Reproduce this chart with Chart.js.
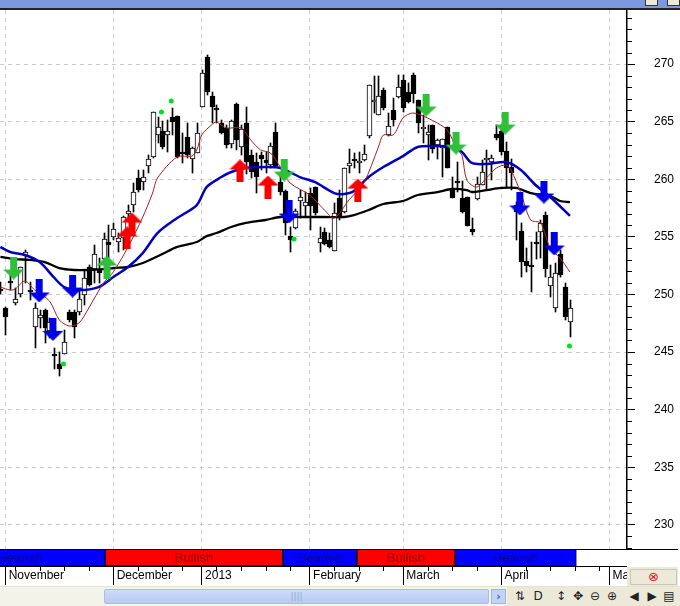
<!DOCTYPE html>
<html>
<head>
<meta charset="utf-8">
<script src="https://cdn.jsdelivr.net/npm/chart.js@4"></script>
<style>
html, body { margin: 0; padding: 0; background: #fff; overflow: hidden; }
#page { position: relative; width: 680px; height: 606px; overflow: hidden; font-family: "Liberation Sans", sans-serif; }
#page > * { position: absolute; }
#titlebar { left: 0; top: 0; width: 680px; height: 8px; background: #7b98e0; border-bottom: 2px solid #222; box-sizing: content-box; }
.winbtn { top: 0; height: 5px; background: #ece9d8; border: 1px solid #333; border-top: none; }
#priceChart { left: 0; top: 10px; }
#bandChart { left: 0; top: 549px; }
#bandTop { left: 0; top: 549px; width: 678px; height: 1px; background: #000; }
#corner { left: 627px; top: 567px; width: 51px; height: 20px; background: #ece9d8; }
#cornerBox { left: 630px; top: 569px; width: 45px; height: 14px; background: #ece9d8; border: 1px solid #c9c7b6; color: #d02020; font: 13px/14px "DejaVu Sans"; text-align: center; }
#toolbar { left: 0; top: 586px; width: 680px; height: 20px; background: #f4f3ea; border-top: 1px solid #e4e2d0; box-sizing: border-box; }
#thumb { left: 104px; top: 589px; width: 385px; height: 15px; background: linear-gradient(#cfdcf8, #b7caf2); border: 1px solid #a9bde8; border-radius: 2px; box-sizing: border-box; color: #8fa6d8; font: 9px/13px "DejaVu Sans"; text-align: center; }
#thumbNext { left: 491px; top: 589px; width: 15px; height: 15px; background: #c3d3f5; border: 1px solid #9fb5e4; box-sizing: border-box; color: #3a5fb0; font: bold 11px/13px "DejaVu Sans"; text-align: center; }
#tools { left: 507px; top: 587px; width: 173px; height: 19px; background: #ece9d8; }
.tool { top: 588px; width: 16px; text-align: center; font: 12px/17px "DejaVu Sans"; color: #222; }
</style>
</head>
<body>
<div id="page">
  <div id="titlebar"></div>
  <div class="winbtn" style="left:645px;width:11px"></div>
  <div class="winbtn" style="left:667px;width:11px"></div>
  <canvas id="priceChart" width="680" height="539"></canvas>
  <canvas id="bandChart" width="627" height="37"></canvas>
  <div id="bandTop"></div>
  <div id="corner"></div>
  <div id="cornerBox">⊗</div>
  <div id="toolbar"></div>
  <div id="thumb">||||</div>
  <div id="thumbNext">›</div>
  <div id="tools"></div>
  <div class="tool" style="left:512px">⇅</div>
  <div class="tool" style="left:530px">D</div>
  <div class="tool" style="left:553px">↕</div>
  <div class="tool" style="left:570px">✥</div>
  <div class="tool" style="left:587px">⊖</div>
  <div class="tool" style="left:604px">⊕</div>
  <div class="tool" style="left:626px">◀</div>
  <div class="tool" style="left:644px">▶</div>
  <div class="tool" style="left:661px">▤</div>
</div>
<script>
var firstBar = -1;
var candleOpen = [250.47,248.82,251.16,249.26,250.04,253.33,250.38,247.17,247.95,248.65,246.82,244.83,243.96,244.83,248.47,248.47,248.47,249.95,252.38,252.21,252.12,253.07,254.55,254.99,254.55,254.90,256.98,257.76,260.11,259.76,261.15,261.93,263.84,264.19,263.84,265.40,265.49,262.36,263.67,261.75,262.28,266.27,270.61,267.22,266.18,264.88,264.45,263.06,266.53,262.80,264.88,262.10,261.49,262.10,261.67,261.23,264.10,259.76,258.98,255.07,255.77,258.11,257.68,258.80,259.32,254.46,255.42,254.72,253.77,258.37,257.16,261.15,261.75,261.41,261.67,263.75,266.70,265.57,267.74,263.84,266.01,267.14,268.61,267.57,269.05,266.88,264.36,263.84,264.71,262.97,262.71,264.53,259.06,259.85,258.37,258.46,255.68,258.28,259.50,261.75,261.49,263.93,264.19,262.45,261.06,257.76,255.51,252.90,252.55,254.55,255.42,256.89,250.73,248.82,253.51,250.64,247.61];
var candleClose = [250.30,248.04,250.99,249.60,252.38,253.68,250.21,248.82,248.21,247.09,247.61,244.74,243.53,245.87,247.78,247.17,249.60,251.43,250.82,253.51,251.86,254.81,254.29,255.68,254.90,256.72,257.24,258.89,259.06,260.19,261.75,265.83,264.53,262.80,264.19,264.97,261.93,262.19,262.10,262.71,264.01,269.22,267.57,266.27,266.10,264.01,262.97,265.05,263.40,264.36,261.49,260.63,260.19,261.75,261.41,262.88,261.15,258.89,256.20,254.72,257.24,258.46,258.02,257.68,257.07,254.90,254.38,254.12,257.07,256.63,260.97,261.41,261.58,261.58,262.19,268.18,266.88,267.22,266.18,264.62,265.14,268.01,266.18,266.70,267.40,264.88,264.53,264.10,262.62,263.40,263.49,260.97,258.37,259.76,257.16,255.94,255.42,259.59,260.63,261.84,261.84,263.58,262.36,260.97,260.54,257.16,252.81,252.47,252.47,254.46,256.20,252.21,251.51,251.86,251.69,248.04,248.82];
var candleHigh = [251.08,248.90,251.69,250.56,252.38,253.86,251.08,249.26,248.65,248.73,247.95,245.35,245.00,246.91,248.65,248.65,250.38,252.12,252.55,254.29,253.16,255.33,256.03,256.20,255.33,256.81,257.76,259.67,260.80,260.80,262.10,265.83,265.40,265.05,265.14,266.18,265.49,264.01,264.88,262.80,264.88,269.48,270.78,267.57,266.44,265.14,264.71,265.14,266.62,264.71,266.27,262.54,262.28,262.36,262.36,263.14,264.88,260.63,259.06,255.85,257.41,259.06,258.89,259.24,259.32,255.85,255.77,255.33,257.94,259.06,260.97,262.62,262.28,262.36,262.97,268.18,268.96,268.96,267.92,265.75,267.05,269.05,269.05,268.35,269.22,266.88,265.57,264.71,264.71,263.49,263.49,264.53,260.19,261.49,259.85,258.46,256.63,260.19,261.67,262.54,262.10,264.71,264.71,263.23,261.75,258.02,256.20,254.03,254.55,255.42,256.46,257.16,252.55,252.73,253.86,250.99,249.52];
var candleLow = [250.00,246.48,250.38,249.08,249.78,250.99,249.52,245.35,247.09,245.78,246.22,243.53,242.92,244.83,247.61,246.22,248.21,249.08,250.73,250.99,250.99,252.99,253.16,254.72,253.68,253.86,256.29,257.16,258.89,259.06,260.54,261.84,263.14,262.62,262.36,263.84,261.84,261.41,261.84,260.54,262.28,266.27,267.31,264.88,264.88,263.93,262.71,262.71,262.54,262.10,260.45,260.11,258.80,260.80,260.54,260.97,261.06,258.63,255.16,253.68,255.68,256.63,256.72,255.59,256.89,253.68,254.29,254.03,253.77,256.46,257.07,260.54,260.97,260.54,261.58,263.58,265.75,265.57,266.01,263.75,264.62,267.05,265.83,266.62,266.62,264.01,263.14,261.67,262.28,261.75,260.19,260.97,258.37,258.89,257.07,255.94,255.16,258.20,259.50,259.06,259.93,263.40,262.10,259.24,259.06,254.72,251.51,251.95,250.21,253.07,253.16,251.51,249.78,248.47,251.51,247.78,246.31];

var redX = [-1,1,2,4,6,9,11,13,15,17,20,22,25,28,30,31,35,38,39,40,42,43,45,48,50,52,54,56,58,62,65,67,70,73,76,77,79,81,83,86,90,92,93,94,96,98,100,102,103,105,107,109,111,113,115];
var redY = [250.64,250.38,250.47,251.16,250.38,249.43,247.78,247.26,247.52,248.82,250.99,251.95,254.12,256.72,258.80,260.11,261.93,262.01,262.54,263.84,264.71,264.97,264.45,264.45,263.40,262.54,262.28,261.06,259.67,258.63,257.33,256.63,258.20,259.67,262.80,263.84,263.84,265.31,265.75,265.31,264.27,262.54,262.10,259.93,259.32,260.11,260.97,261.23,260.80,258.80,256.46,256.20,254.02,253.15,251.95];
var blueX = [-1,1,4,7,10,12,15,19,22,25,28,31,35,39,41,44,46,49,53,56,60,63,67,69,71,74,77,81,84,88,91,93,95,98,102,105,108,111,115];
var blueY = [254.12,253.68,253.42,252.81,251.43,250.64,250.38,250.64,251.51,252.38,253.59,255.33,256.63,257.76,259.32,260.19,260.63,260.97,261.06,260.97,260.19,259.76,258.80,258.72,258.98,260.19,261.06,262.01,262.80,262.88,262.80,262.36,261.41,261.32,261.49,260.80,259.50,258.46,256.81];
var blackX = [-1,2,5,8,11,14,17,21,22,25,28,32,35,39,41,43,46,49,53,56,60,65,69,71,74,77,81,84,88,91,94,95,98,101,104,107,111,113,115];
var blackY = [253.25,253.07,252.99,252.81,252.29,252.12,252.12,252.21,252.29,252.38,252.73,253.51,254.12,254.55,255.06,255.33,255.85,256.20,256.46,256.72,256.72,256.72,256.72,256.89,257.33,257.85,258.11,258.63,258.89,259.15,259.06,258.89,259.06,259.24,259.24,258.80,258.54,258.11,258.02];

var greenDownX = [1.7,56.8,85.7,91.8,101.8];
var greenDownY = [252.29,260.80,266.44,263.14,264.88];
var greenUpX = [20.7];
var greenUpY = [252.38];
var blueDownX = [6.9,9.7,13.7,57.8,104.8,109.7,111.8];
var blueDownY = [250.30,246.97,250.73,257.16,257.85,258.89,254.38];
var redUpX = [25.8,24.8,47.8,53.5,71.8];
var redUpY = [256.11,254.90,260.72,259.32,259.06];
var dotX = [11.85,31.8,33.8,58.8,114.9];
var dotY = [243.96,265.83,266.79,254.81,245.52];

var priceTicks = [230,235,240,245,250,255,260,265,270];
var priceMinor = [228,229,231,232,233,234,236,237,238,239,241,242,243,244,246,247,248,249,251,252,253,254,256,257,258,259,261,262,263,264,266,267,268,269,271,272,273,274];
var monthAt = [0,22,40,62,81,101,123];
var monthNames = ["November","December","2013","February","March","April","May"];
var weekAt = [2,7,12,17,27,32,36,43,48,53,58,67,72,77,86,91,96,106,111,116,121];
var bandNames = ["Bearish","Bullish","Bearish","Bullish","Bearish"];
var bandStart = [-14.3,20.35,56.5,71.6,91.6];
var bandEnd = [20.35,56.5,71.6,91.6,116.3];

var xMin = -1.08, xMax = 126.62;
var font = '"Liberation Sans", sans-serif';

function pairs(xs, ys) {
  return xs.map(function(x, i) { return {x: x, y: ys[i]}; });
}

function arrow(color, down) {
  var c = document.createElement('canvas');
  c.width = 21; c.height = 23;
  var g = c.getContext('2d');
  if (down) { g.translate(0, 23); g.scale(1, -1); }
  g.fillStyle = color;
  g.beginPath();
  g.moveTo(10.5, 0); g.lineTo(21, 10); g.lineTo(14, 10); g.lineTo(14, 23);
  g.lineTo(7, 23); g.lineTo(7, 10); g.lineTo(0, 10);
  g.closePath();
  g.fill();
  return c;
}

function markers(xs, ys, image) {
  return {type: 'line', showLine: false, data: pairs(xs, ys), pointStyle: image, pointRadius: 10, order: 0};
}

function maLine(xs, ys, color, width, order) {
  return {type: 'line', data: pairs(xs, ys), borderColor: color, borderWidth: width, pointRadius: 0, tension: 0.3, order: order};
}

var wicks = candleHigh.map(function(h, i) { return {x: firstBar + i, y: [candleLow[i], h]}; });
var bodies = candleOpen.map(function(o, i) { return {x: firstBar + i, y: [o, candleClose[i]]}; });
var bodyColors = candleOpen.map(function(o, i) { return candleClose[i] >= o ? '#ffffff' : '#000000'; });

// the old chart has hard pixel candles, so snap the bars to whole pixels
var snapBarsPlugin = {
  id: 'snapBars',
  afterDatasetsUpdate: function(chart) {
    chart.getSortedVisibleDatasetMetas().forEach(function(meta) {
      if (meta.type !== 'bar') return;
      meta.data.forEach(function(el) {
        el.x = Math.round(el.x) + 0.5;
        var top = Math.round(Math.min(el.y, el.base));
        var bottom = Math.max(Math.round(Math.max(el.y, el.base)), top + 2);
        el.y = top;
        el.base = bottom;
      });
    });
  }
};

var minorTicksPlugin = {
  id: 'minorTicks',
  afterDraw: function(chart) {
    var g = chart.ctx;
    g.save();
    g.fillStyle = '#000';
    if (chart.canvas.id === 'priceChart') {
      priceMinor.forEach(function(v) {
        g.fillRect(chart.chartArea.right, Math.round(chart.scales.y.getPixelForValue(v)), 5, 1);
      });
    } else {
      weekAt.forEach(function(v) {
        g.fillRect(Math.round(chart.scales.x.getPixelForValue(v)), chart.chartArea.bottom, 1, 5);
      });
    }
    g.restore();
  }
};

var bandLabelPlugin = {
  id: 'bandLabels',
  afterDatasetsDraw: function(chart) {
    var g = chart.ctx, sx = chart.scales.x;
    g.save();
    g.font = '13px ' + font;
    g.textAlign = 'center';
    g.textBaseline = 'middle';
    bandNames.forEach(function(n, i) {
      g.fillStyle = n === 'Bullish' ? '#8a0000' : '#00008a';
      g.fillText(n, (sx.getPixelForValue(bandStart[i]) + sx.getPixelForValue(bandEnd[i])) / 2, (chart.chartArea.top + chart.chartArea.bottom) / 2 + 0.5);
    });
    g.restore();
  }
};

new Chart(document.getElementById('priceChart').getContext('2d'), {
  type: 'bar',
  data: {
    datasets: [
      markers(greenDownX, greenDownY, arrow('#2fbf3a', true)),
      markers(greenUpX, greenUpY, arrow('#2fbf3a', false)),
      markers(blueDownX, blueDownY, arrow('#0000e6', true)),
      markers(redUpX, redUpY, arrow('#fb0000', false)),
      {type: 'line', showLine: false, data: pairs(dotX, dotY), pointStyle: 'circle', pointRadius: 2.5, pointBorderWidth: 0, backgroundColor: '#00e020', borderColor: '#00e020', order: 1},
      maLine(redX, redY, '#a82020', 1, 2),
      maLine(blueX, blueY, '#0000c0', 2.5, 3),
      maLine(blackX, blackY, '#000000', 2.3, 4),
      {data: bodies, grouped: false, barThickness: 5, backgroundColor: bodyColors, borderColor: '#000', borderWidth: 1, borderSkipped: false, order: 5},
      {data: wicks, grouped: false, barThickness: 1, backgroundColor: '#000', borderWidth: 0, order: 6}
    ]
  },
  plugins: [snapBarsPlugin, minorTicksPlugin],
  options: {
    responsive: false,
    animation: false,
    devicePixelRatio: 1,
    layout: {padding: 0, autoPadding: false},
    plugins: {legend: {display: false}, tooltip: {enabled: false}},
    scales: {
      x: {
        type: 'linear', min: xMin, max: xMax, offset: false,
        afterBuildTicks: function(axis) { axis.ticks = monthAt.map(function(v) { return {value: v}; }); },
        afterFit: function(axis) { axis.height = 0; axis.paddingLeft = 0; axis.paddingRight = 0; },
        ticks: {display: false, autoSkip: false},
        border: {display: false, dash: [4, 4]},
        grid: {color: '#cccccc', lineWidth: 1, drawTicks: false, tickLength: 0, offset: false}
      },
      y: {
        position: 'right', min: 227.9, max: 274.69,
        afterBuildTicks: function(axis) { axis.ticks = priceTicks.map(function(v) { return {value: v}; }); },
        afterFit: function(axis) { axis.width = 53; axis.paddingTop = 0; axis.paddingBottom = 0; },
        ticks: {color: '#000', font: {family: font, size: 12}, padding: 19, autoSkip: false, crossAlign: 'near', callback: function(v) { return String(v); }},
        border: {color: '#000', width: 1.5, dash: [4, 4]},
        grid: {color: '#cccccc', tickColor: '#000', tickLength: 8, tickWidth: 1, lineWidth: 1}
      }
    }
  }
});

new Chart(document.getElementById('bandChart').getContext('2d'), {
  type: 'bar',
  data: {
    labels: ['band'],
    datasets: bandNames.map(function(n, i) {
      return {
        data: [[bandStart[i], bandEnd[i]]], grouped: false,
        barPercentage: 1, categoryPercentage: 1,
        backgroundColor: n === 'Bullish' ? '#ff0000' : '#0000ff',
        borderColor: '#000', borderWidth: 1, borderSkipped: false
      };
    })
  },
  plugins: [minorTicksPlugin, bandLabelPlugin],
  options: {
    indexAxis: 'y',
    responsive: false,
    animation: false,
    devicePixelRatio: 1,
    layout: {padding: 0, autoPadding: false},
    plugins: {legend: {display: false}, tooltip: {enabled: false}},
    scales: {
      y: {display: false},
      x: {
        type: 'linear', min: xMin, max: xMax, offset: false,
        afterBuildTicks: function(axis) { axis.ticks = monthAt.map(function(v) { return {value: v}; }); },
        afterFit: function(axis) { axis.height = 20; axis.paddingLeft = 0; axis.paddingRight = 0; },
        ticks: {
          color: '#000', font: {family: font, size: 12}, align: 'start', autoSkip: false, maxRotation: 0, padding: -17,
          callback: function(v) { return ' ' + monthNames[monthAt.indexOf(v)]; }
        },
        border: {color: '#000', width: 1},
        grid: {drawOnChartArea: false, color: '#000', tickColor: '#000', tickLength: 19, lineWidth: 1}
      }
    }
  }
});
</script>
</body>
</html>
